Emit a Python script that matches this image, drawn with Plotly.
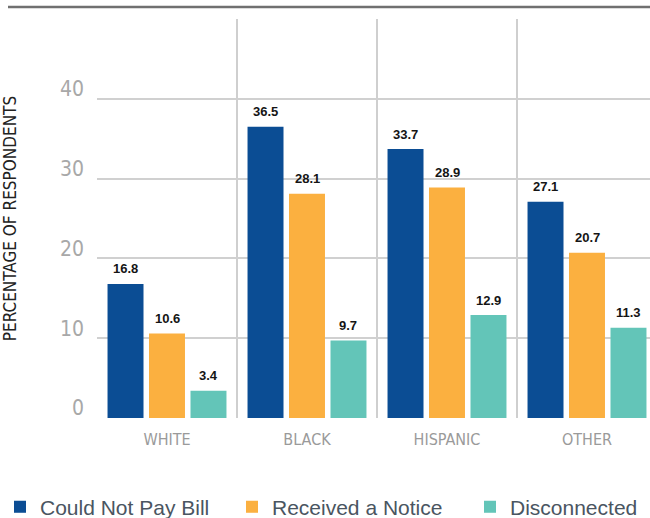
import plotly.graph_objects as go

# Survey results: share of respondents by race/ethnicity
groups = ["WHITE", "BLACK", "HISPANIC", "OTHER"]
could_not_pay = [16.8, 36.5, 33.7, 27.1]
received_notice = [10.6, 28.1, 28.9, 20.7]
disconnected = [3.4, 9.7, 12.9, 11.3]
y_ticks = [0, 10, 20, 30, 40]

series = [
    ("Could Not Pay Bill", could_not_pay, "#0b4d94"),
    ("Received a Notice", received_notice, "#fbb040"),
    ("Disconnected", disconnected, "#63c5b8"),
]

NARROW = "Liberation Sans Narrow, DejaVu Sans Condensed, Roboto Condensed, Arial Narrow, sans-serif"
SANS = "Liberation Sans, Arial, Helvetica, sans-serif"

BARGAP = 0.111
BARGROUPGAP = 0.133
slot = (1 - BARGAP) / len(series)  # width of one bar slot in category units

PLOT_LEFT, PLOT_W = 97, 553

# each series gets its own legend box so the three keys sit on one row
legend_x_px = [-4, 232, 470]
legend_names = ["legend", "legend2", "legend3"]

fig = go.Figure()
annotations = []
for k, (name, vals, color) in enumerate(series):
    fig.add_trace(go.Bar(
        name=name, x=groups, y=vals,
        marker=dict(color=color, line=dict(width=0)),
        hoverinfo="x+y+name",
        legend=legend_names[k],
    ))
    offset = (k - (len(series) - 1) / 2) * slot
    for i, v in enumerate(vals):
        annotations.append(dict(
            x=i + offset, y=v, xref="x", yref="y",
            text=f"<b>{v}</b>", showarrow=False,
            yanchor="middle", yshift=15,
            font=dict(family=SANS, size=13, color="#151515"),
        ))

shapes = []
# vertical separators between groups
for i in range(len(groups) - 1):
    shapes.append(dict(
        type="line", xref="x", yref="y", x0=i + 0.5, x1=i + 0.5, y0=0, y1=50,
        line=dict(color="#cfcfcf", width=2), layer="below",
    ))
# dark rule across the top
shapes.append(dict(
    type="line", xref="paper", yref="paper",
    x0=(8 - PLOT_LEFT) / PLOT_W, x1=1, y0=1 + 12 / 399, y1=1 + 12 / 399,
    line=dict(color="#707070", width=2.5),
))

legend_style = dict(
    orientation="h", xref="paper", yref="container",
    y=0.021, xanchor="left", yanchor="middle",
    font=dict(family=SANS, size=21, color="#4a5561"),
    itemclick=False, itemdoubleclick=False, bgcolor="rgba(0,0,0,0)",
)
legends = {
    ln: dict(legend_style, x=(px - PLOT_LEFT) / PLOT_W)
    for ln, px in zip(legend_names, legend_x_px)
}

fig.update_layout(
    width=650, height=518, autosize=False,
    margin=dict(l=PLOT_LEFT, r=0, t=19, b=100),
    paper_bgcolor="white", plot_bgcolor="white",
    barmode="group", bargap=BARGAP, bargroupgap=BARGROUPGAP,
    annotations=annotations, shapes=shapes,
    showlegend=True,
    **legends,
    xaxis=dict(
        range=[-0.5, 3.45], showgrid=False, zeroline=False, showline=False,
        ticks="", tickfont=dict(family=NARROW, size=16, color="#9a9a9a"),
        ticklabelstandoff=10,
    ),
    yaxis=dict(
        range=[0, 50], tickvals=y_ticks, showgrid=True,
        gridcolor="#d0d0d0", gridwidth=2, zeroline=False, showline=False,
        ticks="", tickfont=dict(family=NARROW, size=21, color="#a8a8a8"),
        ticklabelstandoff=12, ticklabelshift=-10,
        title=dict(text="PERCENTAGE OF RESPONDENTS", standoff=40,
                   font=dict(family=NARROW, size=17, color="#222222")),
    ),
)

fig.write_html("out.html")
